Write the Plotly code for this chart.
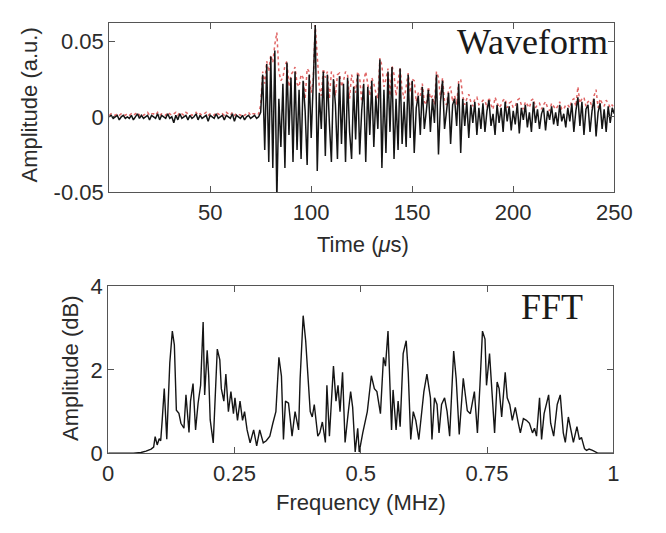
import plotly.graph_objects as go

# ---------------- Waveform data (amplitude in 1e-3 a.u., sampled every 1 us) ----------------
black_noise = [
    0, 1, -1, 0, 1, -2, 0, 1, -1, 0,
    -1, 1, -2, 0, 2, -1, 1, -1, 0, 1,
    -2, 1, 0, -1, 2, -2, 1, 0, -1, 2,
    -1, 0, -4, 1, -2, 2, -1, 0, 1, -2,
    1, -1, 0, 2, -2, 1, -1, 0, 1, -3,
    1, 0, -1, 2, -1, 0, 1, -2, 1, 0,
    -1, 2, -3, 1, 0, -1, 1, -2, 0, 1,
    -1, 0, 1, -1, 0,
]
black_burst = [
    3, 28, -22, 35, -30, 40, -34, 44, -55, 12,
    -20, 22, -34, 36, -12, 26, -30, 30, -22, 18,
    -28, 24, 4, -32, 28, -14, 22, 61, -36, 16,
    -8, 30, -26, 28, -4, -30, 25, 8, -28, 27,
    -18, 22, -30, 26, -10, -28, 20, -15, 28, -25,
    4, 22, -30, 20, -12, 24, -20, 14, -8, 38,
    -34, 18, -24, 30, -10, 33, -28, 12, -22, 32,
    -18, 10, -20, 28, -14, 24, -24, 6, 14, -12,
    20, -8, 4, 18, -10, 12, -4, 28, -25, 10,
    24, -8, 4, 16, -18, 8, 12, -6, 22, -24,
    12, -6, 10, -14, 8, -4, 10, -12, 6, -8,
    9, -10, 4, 11, -6, 2, -12, 8, -4, 6,
    -10, 10, -3, 7, -9, 4, -5, 9, -11, 6,
    -2, 8, -7, 3, -10, 10, -4, 5, -8, 2,
    6, -9, 4, -2, 7, -5, 3, -6, 8, -3,
    2, -7, 6, -3, 9, -10, 4, 13, -6, 10,
    -12, 5, 8, -10, 4, 12, -13, 3, 9, -8,
    5, -10, 7, -4, 6, 2,
]
red_noise = [
    1, 2, 1, 1, 2, 1, 2, 2, 1, 2,
    1, 2, 1, 2, 3, 1, 2, 1, 2, 3,
    1, 2, 2, 1, 3, 1, 2, 2, 1, 3,
    2, 1, 2, 3, 1, 3, 2, 1, 3, 2,
    2, 1, 2, 3, 1, 2, 1, 2, 3, 1,
    2, 2, 1, 3, 2, 1, 2, 1, 3, 2,
    1, 3, 1, 2, 2, 1, 2, 1, 2, 3,
    1, 2, 2, 1, 2,
]
red_burst = [
    8, 30, 22, 37, 30, 41, 36, 48, 56, 30,
    24, 26, 34, 37, 20, 28, 30, 33, 22, 20,
    28, 26, 12, 32, 30, 16, 24, 61, 38, 20,
    14, 32, 26, 30, 12, 30, 28, 14, 28, 29,
    20, 24, 30, 28, 12, 28, 22, 16, 30, 26,
    10, 24, 30, 22, 14, 26, 22, 16, 12, 39,
    34, 20, 25, 32, 14, 34, 28, 14, 22, 33,
    18, 12, 20, 29, 16, 25, 24, 10, 16, 14,
    22, 10, 8, 20, 12, 14, 8, 30, 26, 12,
    26, 10, 8, 18, 20, 10, 14, 8, 24, 25,
    14, 8, 12, 15, 10, 7, 12, 13, 8, 9,
    11, 11, 6, 13, 8, 5, 13, 10, 6, 8,
    11, 12, 6, 9, 10, 6, 7, 11, 12, 8,
    5, 10, 8, 6, 11, 12, 6, 8, 9, 5,
    8, 10, 6, 4, 9, 7, 5, 7, 10, 5,
    5, 8, 8, 6, 11, 12, 7, 20, 9, 12,
    13, 7, 10, 11, 6, 14, 18, 6, 12, 9,
    7, 11, 9, 6, 8, 5,
]
black_wave = [v / 1000 for v in black_noise + black_burst]
red_wave = [v / 1000 for v in red_noise + red_burst]
time_black = list(range(len(black_wave)))
time_red = list(range(len(red_wave)))

# ---------------- FFT data (frequency in MHz, amplitude in dB) ----------------
fft_freq = [
    0.0, 0.03, 0.05, 0.065, 0.075, 0.085, 0.09, 0.093, 0.097, 0.101, 0.104, 0.107, 0.111,
    0.116, 0.122, 0.127, 0.131, 0.135, 0.14, 0.144, 0.15, 0.154, 0.16, 0.163, 0.168, 0.173,
    0.178, 0.183, 0.188, 0.191, 0.196, 0.199, 0.202, 0.208, 0.216, 0.221, 0.224, 0.229,
    0.233, 0.238, 0.243, 0.248, 0.251, 0.256, 0.261, 0.266, 0.27, 0.275, 0.281, 0.288,
    0.294, 0.3, 0.307, 0.313, 0.32, 0.326, 0.332, 0.338, 0.343, 0.347, 0.351, 0.357,
    0.364, 0.37, 0.377, 0.38, 0.386, 0.391, 0.396, 0.4, 0.404, 0.408, 0.415, 0.419, 0.424,
    0.43, 0.433, 0.438, 0.446, 0.451, 0.455, 0.459, 0.464, 0.469, 0.475, 0.48, 0.484,
    0.489, 0.494, 0.497, 0.504, 0.507, 0.513, 0.521, 0.527, 0.532, 0.539, 0.545, 0.549,
    0.554, 0.558, 0.561, 0.564, 0.57, 0.574, 0.578, 0.584, 0.59, 0.594, 0.599, 0.604,
    0.609, 0.615, 0.621, 0.625, 0.631, 0.638, 0.641, 0.646, 0.651, 0.655, 0.66, 0.666,
    0.671, 0.676, 0.684, 0.689, 0.695, 0.703, 0.711, 0.717, 0.725, 0.731, 0.736, 0.741,
    0.746, 0.749, 0.755, 0.76, 0.765, 0.77, 0.774, 0.779, 0.786, 0.79, 0.795, 0.8, 0.806,
    0.812, 0.816, 0.822, 0.828, 0.834, 0.84, 0.844, 0.848, 0.854, 0.858, 0.863, 0.872,
    0.876, 0.882, 0.889, 0.895, 0.901, 0.905, 0.911, 0.915, 0.921, 0.928, 0.933, 0.937,
    0.94, 0.943, 0.947, 0.952, 0.959, 0.965, 0.97, 1.0,
]
fft_amp = [
    0.0, 0.0, 0.0, 0.02, 0.05, 0.1, 0.15, 0.4, 0.2, 0.35, 0.3, 0.8, 1.55,
    0.34, 2.17, 2.93, 2.6, 1.03, 0.96, 0.72, 0.6, 1.4, 0.5, 1.25, 1.67, 0.56,
    1.2, 1.63, 3.15, 1.4, 2.47, 1.86, 0.8, 0.25, 2.5, 2.24, 1.55, 1.25,
    1.9, 1.0, 1.48, 0.95, 1.33, 0.79, 1.25, 0.79, 1.0, 0.56, 0.25, 0.56,
    0.18, 0.56, 0.25, 0.3, 0.41, 0.72, 1.0, 2.3, 1.85, 0.33, 1.25, 1.2,
    0.41, 1.0, 0.56, 1.78, 3.3, 2.7, 1.71, 1.0, 0.87, 1.17, 0.41, 0.49, 0.75,
    0.26, 1.63, 0.41, 2.09, 1.25, 1.63, 1.0, 1.94, 0.26, 0.95, 1.48, 1.1,
    0.03, 0.6, 0.03, 0.49, 0.64, 1.0, 1.86, 1.55, 1.48, 0.95, 2.3, 2.09,
    2.93, 1.55, 0.56, 1.52, 0.56, 1.25, 0.64, 2.39, 2.7, 1.94, 0.33, 1.0,
    0.79, 0.33, 1.0, 1.48, 1.9, 1.33, 0.33, 1.33, 1.17, 0.49, 1.17, 1.33,
    1.0, 0.41, 2.45, 1.78, 0.45, 1.8, 1.02, 0.95, 1.48, 0.49, 1.63, 2.93,
    2.74, 1.63, 2.39, 1.55, 0.49, 1.71, 1.55, 0.87, 1.94, 1.33, 1.17, 0.79, 1.1,
    0.72, 0.49, 0.83, 0.79, 0.72, 0.49, 0.6, 0.41, 1.33, 0.33, 0.95, 1.4,
    0.72, 0.41, 1.17, 1.4, 0.49, 0.26, 0.87, 0.64, 0.26, 0.64, 0.33, 0.38,
    0.26, 0.11, 0.07, 0.1, 0.07, 0.03, 0.0, 0.0,
]

# ---------------- Ticks ----------------
wave_xticks = [50, 100, 150, 200, 250]
wave_yticks = [-0.05, 0, 0.05]
wave_yticklabels = ["-0.05", "0", "0.05"]
fft_xticks = [0, 0.25, 0.5, 0.75, 1]
fft_xticklabels = ["0", "0.25", "0.5", "0.75", "1"]
fft_yticks = [0, 2, 4]

W, H = 666, 533
SANS = "Liberation Sans, Arial, Helvetica, sans-serif"
SERIF = "Liberation Serif, Times New Roman, serif"
TXT = "#2b2b2b"
AX = "#555555"


def px_x(p):
    return p / W


def px_y(p):
    return 1 - p / H


fig = go.Figure()
fig.add_trace(go.Scatter(x=time_red, y=red_wave, mode="lines", xaxis="x", yaxis="y",
                         line=dict(color="#e06666", width=1.5, dash="dot"), showlegend=False))
fig.add_trace(go.Scatter(x=time_black, y=black_wave, mode="lines", xaxis="x", yaxis="y",
                         line=dict(color="#151515", width=1.5), showlegend=False))
fig.add_trace(go.Scatter(x=fft_freq, y=fft_amp, mode="lines", xaxis="x2", yaxis="y2",
                         line=dict(color="#151515", width=1.4), showlegend=False))

axis_common = dict(showline=True, linecolor=AX, linewidth=1, mirror="ticks",
                   ticks="inside", ticklen=6, tickcolor=AX, showgrid=False, zeroline=False,
                   tickfont=dict(family=SANS, size=22, color=TXT))

fig.update_layout(
    width=W, height=H,
    margin=dict(l=0, r=0, t=0, b=0),
    paper_bgcolor="white", plot_bgcolor="white",
    xaxis=dict(domain=[px_x(107), px_x(631)], range=[0, 250], anchor="y",
               tickvals=wave_xticks, **axis_common),
    yaxis=dict(domain=[px_y(189), px_y(12)], range=[-0.05, 0.062], anchor="x",
               tickvals=wave_yticks, ticktext=wave_yticklabels, **axis_common),
    xaxis2=dict(domain=[px_x(106), px_x(630)], range=[0, 1], anchor="y2",
                tickvals=fft_xticks, ticktext=fft_xticklabels, **axis_common),
    yaxis2=dict(domain=[px_y(463), px_y(288)], range=[0, 4], anchor="x2",
                tickvals=fft_yticks, **axis_common),
    annotations=[
        dict(text="Waveform", x=px_x(627), y=px_y(31), xref="paper", yref="paper",
             xanchor="right", yanchor="middle", showarrow=False,
             font=dict(family=SERIF, size=36, color="#1a1a1a")),
        dict(text="FFT", x=px_x(601), y=px_y(310), xref="paper", yref="paper",
             xanchor="right", yanchor="middle", showarrow=False,
             font=dict(family=SERIF, size=36, color="#1a1a1a")),
        dict(text="Amplitude (a.u.)", x=px_x(24), y=px_y(98), xref="paper", yref="paper",
             xanchor="center", yanchor="middle", textangle=-90, showarrow=False,
             font=dict(family=SANS, size=22, color=TXT)),
        dict(text="Time (<i>μ</i>s)", x=px_x(370), y=px_y(244), xref="paper", yref="paper",
             xanchor="center", yanchor="middle", showarrow=False,
             font=dict(family=SANS, size=22, color=TXT)),
        dict(text="Amplitude (dB)", x=px_x(67), y=px_y(374), xref="paper", yref="paper",
             xanchor="center", yanchor="middle", textangle=-90, showarrow=False,
             font=dict(family=SANS, size=22, color=TXT)),
        dict(text="Frequency (MHz)", x=px_x(368), y=px_y(515), xref="paper", yref="paper",
             xanchor="center", yanchor="middle", showarrow=False,
             font=dict(family=SANS, size=22, color=TXT)),
    ],
)

fig.write_html("out.html",
               config={"displayModeBar": False},
               post_script="document.body.style.margin='0';document.body.style.overflow='hidden';")
